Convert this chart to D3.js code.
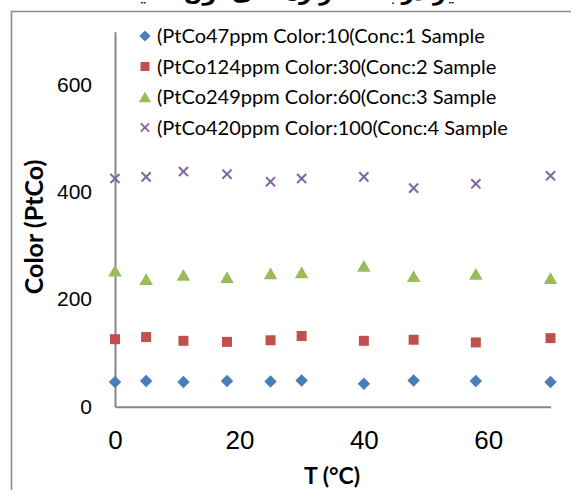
<!DOCTYPE html>
<html>
<head>
<meta charset="utf-8">
<script src="https://cdn.jsdelivr.net/npm/d3@7"></script>
<style>
  body { margin: 0; background: #fff; }
  svg { display: block; }
</style>
</head>
<body>
<div id="chart"></div>
<script>
// Data
var temps = [0, 5, 11, 18, 25, 30, 40, 48, 58, 70];
var sample1 = [46, 48, 46, 48, 47, 49, 43, 49, 48, 46];
var sample2 = [126, 130, 123, 121, 124, 132, 123, 125, 120, 128];
var sample3 = [254, 238, 246, 242, 249, 251, 263, 244, 248, 240];
var sample4 = [426, 429, 439, 434, 420, 426, 429, 408, 416, 431];
var seriesNames = [
  "(PtCo47ppm Color:10(Conc:1 Sample",
  "(PtCo124ppm Color:30(Conc:2 Sample",
  "(PtCo249ppm Color:60(Conc:3 Sample",
  "(PtCo420ppm Color:100(Conc:4 Sample"
];
var xTicks = [0, 20, 40, 60];
var yTicks = [0, 200, 400, 600];

var colors = ["#4a7ebb", "#c0504d", "#9bbb59", "#8064a2"];
var shapes = ["diamond", "square", "triangle", "cross"];
var allSeries = [sample1, sample2, sample3, sample4];

var width = 571, height = 490;

var svg = d3.select("#chart").append("svg")
  .attr("width", width)
  .attr("height", height);

// Scales
var x = d3.scaleLinear().domain([0, 70]).range([115, 550.5]);
var y = d3.scaleLinear().domain([0, 700]).range([406.7, 31.7]);

// Outer frame (left and top edges only visible)
svg.append("path")
  .attr("d", "M11.5,490V11.5H571")
  .attr("fill", "none")
  .attr("stroke", "#8c8c8c")
  .attr("stroke-width", 1.6);

// Title sits above the crop, only its lowest strokes show
svg.append("text")
  .attr("x", 290)
  .attr("y", 0)
  .attr("text-anchor", "middle")
  .attr("font-family", "DejaVu Sans")
  .attr("font-weight", "bold")
  .attr("font-size", 22)
  .attr("fill", "#000")
  .text("تأثير درجة الحرارة على لون العينات");

// Axes
var yAxis = d3.axisLeft(y).tickValues(yTicks).tickSize(0).tickPadding(23);
var xAxis = d3.axisBottom(x).tickValues(xTicks).tickSize(0).tickPadding(24);

var gy = svg.append("g")
  .attr("transform", "translate(" + x(0) + ",0)")
  .call(yAxis);
var gx = svg.append("g")
  .attr("transform", "translate(0," + y(0) + ")")
  .call(xAxis);

gy.select(".domain").attr("stroke", "#868686").attr("stroke-width", 2);
gx.select(".domain").attr("stroke", "#868686").attr("stroke-width", 2);

gy.selectAll("text")
  .attr("font-family", "Liberation Sans, Arial, sans-serif")
  .attr("font-size", 21)
  .attr("fill", "#000")
  .attr("dy", "0.3em");
gx.selectAll("text")
  .attr("font-family", "Liberation Sans, Arial, sans-serif")
  .attr("font-size", 26)
  .attr("fill", "#000");

// Axis titles
svg.append("text")
  .attr("transform", "translate(43,227) rotate(-90)")
  .attr("text-anchor", "middle")
  .attr("font-family", "Lato, sans-serif")
  .attr("font-weight", "bold")
  .attr("font-size", 25)
  .attr("fill", "#000")
  .text("Color (PtCo)");

svg.append("text")
  .attr("x", 332)
  .attr("y", 484)
  .attr("text-anchor", "middle")
  .attr("font-family", "Lato, sans-serif")
  .attr("font-weight", "bold")
  .attr("font-size", 23)
  .attr("fill", "#000")
  .text("T (°C)");

// Marker drawing
function markerPath(shape) {
  if (shape === "diamond") return d3.symbol(d3.symbolSquare, 78)();
  if (shape === "square") return d3.symbol(d3.symbolSquare, 100)();
  if (shape === "triangle") return d3.symbol(d3.symbolTriangle, 80)();
  return d3.symbol(d3.symbolX, 56)();
}

function drawMarker(sel, i) {
  var shape = shapes[i];
  sel.append("path")
    .attr("d", markerPath(shape))
    .attr("transform", function () {
      if (shape === "diamond") return "rotate(45)";
      if (shape === "triangle") return "translate(0,2)";
      return null;
    })
    .attr("fill", shape === "cross" ? "none" : colors[i])
    .attr("stroke", shape === "cross" ? colors[i] : "none")
    .attr("stroke-width", 2);
}

// Points
allSeries.forEach(function (vals, i) {
  var g = svg.append("g");
  g.selectAll("g")
    .data(vals)
    .join("g")
    .attr("transform", function (d, j) {
      return "translate(" + x(temps[j]) + "," + y(d) + ")";
    })
    .each(function () { drawMarker(d3.select(this), i); });
});

// Legend
var legend = svg.append("g").attr("transform", "translate(145,36)");
seriesNames.forEach(function (name, i) {
  var row = legend.append("g").attr("transform", "translate(0," + (i * 30.5) + ")");
  drawMarker(row.append("g").attr("transform", "scale(0.9)"), i);
  row.append("text")
    .attr("x", 12)
    .attr("y", 7)
    .attr("font-family", "Lato, sans-serif")
    .attr("font-size", 20)
    .attr("fill", "#000")
    .text(name);
});
</script>
</body>
</html>
